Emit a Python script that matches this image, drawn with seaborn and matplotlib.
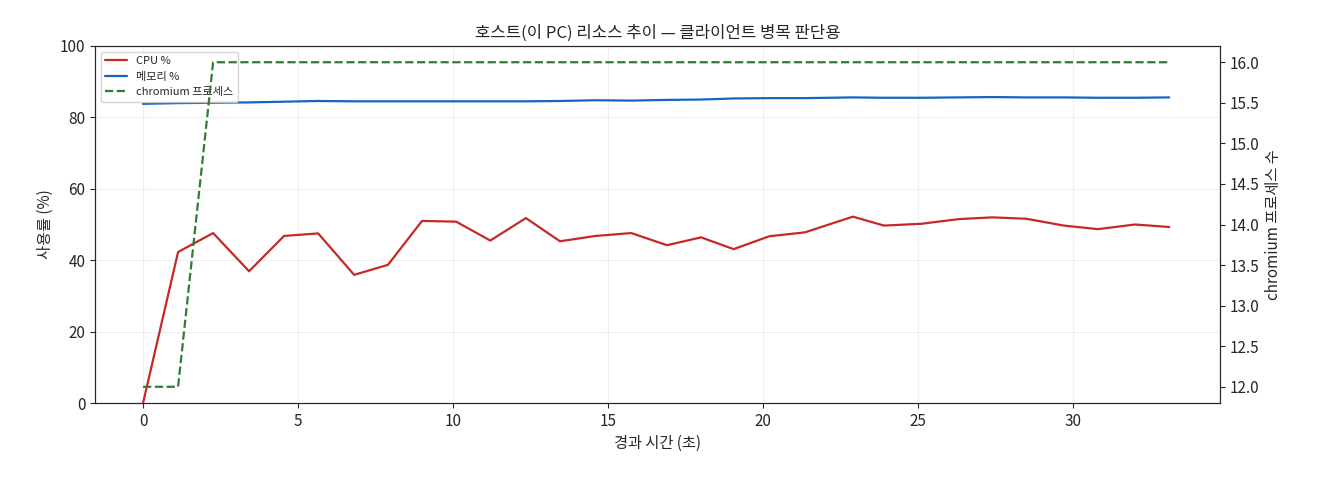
import matplotlib
matplotlib.use("Agg")
import matplotlib.pyplot as plt
import seaborn as sns

t = [0, 1.13, 2.26, 3.42, 4.55, 5.65, 6.81, 7.9, 9.0, 10.1, 11.2, 12.35, 13.45, 14.6, 15.75,
     16.9, 18.0, 19.05, 20.2, 21.35, 22.9, 23.9, 25.1, 26.3, 27.4, 28.5, 29.7, 30.8, 32.0, 33.1]
cpu = [0, 42.3, 47.6, 36.9, 46.8, 47.5, 35.9, 38.7, 51.0, 50.8, 45.5, 51.8, 45.3, 46.8, 47.6,
       44.2, 46.4, 43.1, 46.7, 47.8, 52.2, 49.7, 50.2, 51.5, 52.0, 51.6, 49.7, 48.7, 50.0, 49.3]
mem = [83.8, 84.0, 84.1, 84.2, 84.4, 84.6, 84.5, 84.5, 84.5, 84.5, 84.5, 84.5, 84.6, 84.8, 84.7,
       84.9, 85.0, 85.3, 85.4, 85.4, 85.6, 85.5, 85.5, 85.6, 85.7, 85.6, 85.6, 85.5, 85.5, 85.6]
chrom = [12, 12, 16, 16, 16, 16, 16, 16, 16, 16, 16, 16, 16, 16, 16,
         16, 16, 16, 16, 16, 16, 16, 16, 16, 16, 16, 16, 16, 16, 16]

sns.set_style("ticks")
plt.rcParams['font.family'] = ['Noto Sans CJK KR', 'DejaVu Sans']
plt.rcParams['font.size'] = 11
fig = plt.figure(figsize=(13.2, 4.8), dpi=100)
ax = fig.add_axes([95/1320, 1-403/480, 1125/1320, 357/480])
sns.lineplot(x=t, y=cpu, ax=ax, color="#c62828", label="CPU %", lw=1.6)
sns.lineplot(x=t, y=mem, ax=ax, color="#1565c0", label="메모리 %", lw=1.6)
ax2 = ax.twinx()
sns.lineplot(x=t, y=chrom, ax=ax2, color="#2e7d32", linestyle="--", label="chromium 프로세스", lw=1.6)
ax.set_xlim(-1.55, 34.74)
ax.set_ylim(0, 100)
ax2.set_ylim(11.8, 16.2)
ax.grid(True, alpha=0.3)
ax.set_xlabel("경과 시간 (초)")
ax.set_ylabel("사용률 (%)")
ax2.set_ylabel("chromium 프로세스 수")
ax.set_title("호스트(이 PC) 리소스 추이 — 클라이언트 병목 판단용", fontsize=12)
h1, l1 = ax.get_legend_handles_labels()
h2, l2 = ax2.get_legend_handles_labels()
ax2.get_legend().remove()
ax.legend(h1 + h2, l1 + l2, loc="upper left", fontsize=8)
fig.savefig("out.png")
